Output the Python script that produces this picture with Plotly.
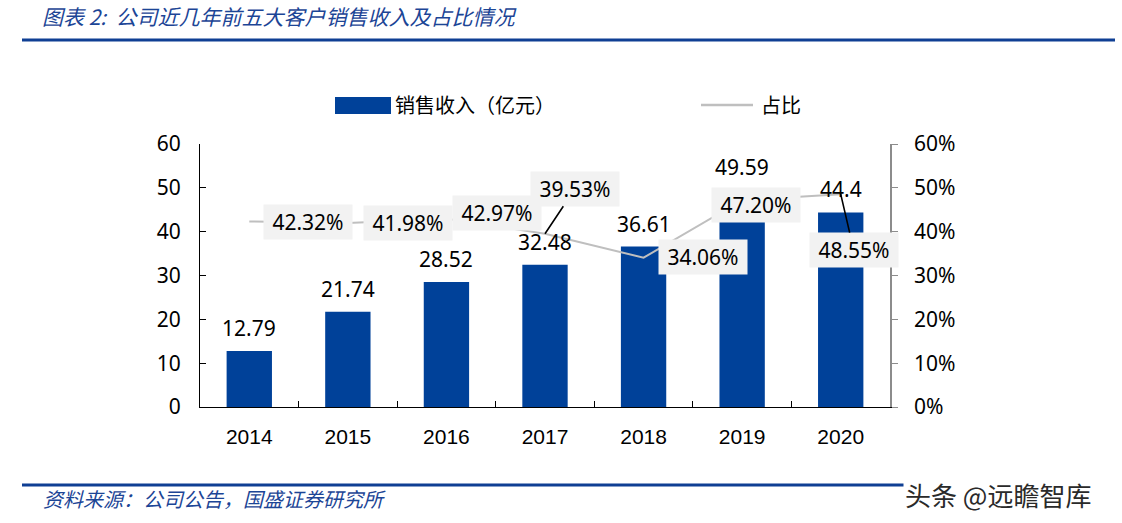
import plotly.graph_objects as go

# ---------------- data ----------------
years = ["2014", "2015", "2016", "2017", "2018", "2019", "2020"]
revenue = [12.79, 21.74, 28.52, 32.48, 36.61, 49.59, 44.4]          # 亿元
share_pct = [42.32, 41.98, 42.97, 39.53, 34.06, 47.20, 48.55]        # %
bar_name = "销售收入（亿元）"
line_name = "占比"
title_text = "图表 2:  公司近几年前五大客户销售收入及占比情况"
source_text = "资料来源：公司公告，国盛证券研究所"
watermark_text = "头条 @远瞻智库"
left_ticks = [0, 10, 20, 30, 40, 50, 60]
right_ticks = [0, 0.1, 0.2, 0.3, 0.4, 0.5, 0.6]

# ---------------- style ----------------
BAR = "#004199"
LINE = "#bfbfbf"
BLUE_TXT = "#1c4596"
NUM_FONT = "Noto Sans, DejaVu Sans, sans-serif"
CJK = "Noto Sans CJK SC, sans-serif"
YEAR_FONT = "Liberation Sans Narrow, Liberation Sans, Arial, sans-serif"

W, H = 1122, 523
ML, MR, MT, MB = 200, 232, 144, 116
PW, PH = W - ML - MR, H - MT - MB


def pxx(x):
    return (x - ML) / PW


def pxy(y):
    return (H - MB - y) / PH


fig = go.Figure()
fig.add_trace(go.Bar(x=years, y=revenue, name=bar_name, marker=dict(color=BAR, line=dict(width=0)),
                     yaxis="y", hoverinfo="skip"))
fig.add_trace(go.Scatter(x=years, y=[v / 100 for v in share_pct], name=line_name, mode="lines",
                         line=dict(color=LINE, width=2), yaxis="y2", hoverinfo="skip"))

ann = []
# bar value labels (x given as category index)
for i, v in enumerate(revenue):
    ann.append(dict(x=i, y=v, xref="x", yref="y", text=f"{v:g}", showarrow=False,
                    yanchor="middle", yshift=23, font=dict(family=NUM_FONT, size=21, color="black")))

# percentage labels (offsets in pixels: xshift, yshift) or arrows (ax, ay)
pct_pos = [("s", 59, 0), ("s", 60, 0), ("s", 51, 6), ("a", 30, -45),
           ("s", 59, 1), ("s", 14, -5), ("a", 13, 56)]
for i, (v, pos) in enumerate(zip(share_pct, pct_pos)):
    base = dict(x=i, y=v / 100, xref="x", yref="y2", text=f"{v:.2f}%",
                font=dict(family=NUM_FONT, size=21, color="black"),
                bgcolor="#f2f2f2", borderpad=4, width=80, height=26)
    if pos[0] == "s":
        base.update(showarrow=False, xshift=pos[1], yshift=pos[2])
    else:
        base.update(showarrow=True, ax=pos[1], ay=pos[2], arrowhead=0, arrowwidth=1.6,
                    arrowcolor="black", standoff=0)
    ann.append(base)

# title, source, watermark, legend texts
ann.append(dict(x=pxx(40), y=pxy(16), xref="paper", yref="paper", xanchor="left", yanchor="middle",
                text=f"<i>{title_text}</i>", showarrow=False,
                font=dict(family=CJK, size=21, color=BLUE_TXT)))
ann.append(dict(x=pxx(41), y=pxy(498), xref="paper", yref="paper", xanchor="left", yanchor="middle",
                text=f"<i>{source_text}</i>", showarrow=False,
                font=dict(family=CJK, size=20, color=BLUE_TXT)))
ann.append(dict(x=pxx(903), y=pxy(494), xref="paper", yref="paper", xanchor="left", yanchor="middle",
                text=watermark_text, showarrow=False, bgcolor="white",
                font=dict(family=CJK, size=26, color="#2a2a2a")))
ann.append(dict(x=pxx(393), y=pxy(105), xref="paper", yref="paper", xanchor="left", yanchor="middle",
                text=bar_name, showarrow=False, font=dict(family=CJK, size=20, color="black")))
ann.append(dict(x=pxx(759), y=pxy(105), xref="paper", yref="paper", xanchor="left", yanchor="middle",
                text=line_name, showarrow=False, font=dict(family=CJK, size=20, color="black")))

shapes = [
    # header / footer rules
    dict(type="line", xref="paper", yref="paper", x0=pxx(22), x1=pxx(1115), y0=pxy(40), y1=pxy(40),
         line=dict(color="#0f3f94", width=3)),
    dict(type="line", xref="paper", yref="paper", x0=pxx(22), x1=pxx(906), y0=pxy(485), y1=pxy(485),
         line=dict(color="#0f3f94", width=3)),
    # legend swatches
    dict(type="rect", xref="paper", yref="paper", x0=pxx(335), x1=pxx(391), y0=pxy(114), y1=pxy(97),
         fillcolor=BAR, line=dict(width=0)),
    dict(type="line", xref="paper", yref="paper", x0=pxx(701), x1=pxx(753), y0=pxy(105), y1=pxy(105),
         line=dict(color=LINE, width=2.5)),
]

fig.update_layout(
    width=W, height=H, margin=dict(l=ML, r=MR, t=MT, b=MB, pad=0),
    paper_bgcolor="white", plot_bgcolor="white", showlegend=False,
    bargap=0.54, annotations=ann, shapes=shapes,
    xaxis=dict(type="category", categoryorder="array", categoryarray=years,
               range=[-0.5, len(years) - 0.5], showline=True, linecolor="black", linewidth=1,
               ticks="inside", tickson="boundaries", ticklen=6, tickcolor="black",
               tickfont=dict(family=YEAR_FONT, size=21, color="black"), ticklabelstandoff=11,
               showgrid=False, zeroline=False),
    yaxis=dict(range=[0, 60], tickvals=left_ticks, showline=True, linecolor="black", linewidth=1,
               ticks="inside", ticklen=6, tickcolor="black", showgrid=False, zeroline=False,
               tickfont=dict(family=NUM_FONT, size=21, color="black"), ticklabelstandoff=14),
    yaxis2=dict(range=[0, 0.6], tickvals=right_ticks, tickformat=".0%", overlaying="y", side="right",
                showline=True, linecolor="#8c8c8c", linewidth=1.5, ticks="outside", ticklen=6,
                tickcolor="#8c8c8c", showgrid=False, zeroline=False,
                tickfont=dict(family=NUM_FONT, size=21, color="black"), ticklabelstandoff=12),
)

fig.write_html("out.html")
